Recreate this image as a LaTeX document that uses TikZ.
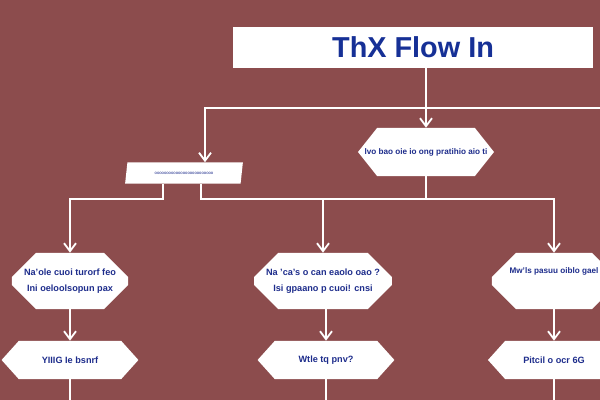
\documentclass[tikz,border=0pt]{standalone}
\usepackage{fontspec}
\setmainfont{Liberation Sans}
\usepackage{tikz}
\usetikzlibrary{shapes.geometric, shapes.misc, shapes.symbols, arrows.meta, positioning, calc}
\definecolor{flowbg}{RGB}{140,76,77}
\definecolor{flowblue}{RGB}{30,45,140}
\definecolor{flowtitle}{RGB}{22,48,150}

\begin{document}
\begin{tikzpicture}[
    x=0.025cm, y=-0.025cm,
    >={Straight Barb[length=2mm,width=3mm]},
    titlebox/.style={rectangle, fill=white, minimum width=8.98cm, minimum height=1.03cm, inner sep=0pt, text=flowtitle, font=\fontsize{20.5}{22}\selectfont\bfseries},
    hexbox/.style={signal, signal to=west and east, signal pointer angle=96, fill=white, inner sep=0pt, minimum width=3.42cm, minimum height=0.95cm, text=flowblue, font=\fontsize{6.5}{8}\selectfont\bfseries},
    octbox/.style={chamfered rectangle, chamfered rectangle xsep=0.3cm, chamfered rectangle ysep=0.3cm, fill=white, inner sep=0pt, minimum width=2.9cm, minimum height=1.4cm, align=center, text=flowblue, font=\fontsize{6.5}{11}\selectfont\bfseries},
    slantbox/.style={trapezium, trapezium left angle=63, trapezium right angle=117, shape border rotate=180, trapezium stretches=true, fill=white, inner sep=0pt, minimum width=2.95cm, minimum height=0.525cm, text=flowblue},
    link/.style={draw=white, line width=1.3pt},
    flowarrow/.style={link, ->}
]

\clip (0,0) rectangle (600,400);
\fill[flowbg] (0,0) rectangle (600,400);

% Boxes
\node[titlebox] (title) at (413,47.5) {ThX Flow In};
\node[hexbox, signal pointer angle=103, inner xsep=-0.35cm, minimum width=3.4cm, minimum height=1.2cm, font=\fontsize{5.8}{7}\selectfont\bfseries] (check) at (426,152) {lvo bao oie io ong pratihio aio ti};
\node[slantbox] (split) at (184,173) {\fontsize{3}{3}\selectfont ooooooooooooooooooooooooo};

\node[octbox] (boxL) at (70,281) {Na'ole cuoi turorf feo\\Ini oeloolsopun pax};
\node[octbox, minimum width=2.95cm] (boxM) at (323,281) {Na 'ca's o can eaolo oao ?\\Isi gpaano p cuoi! cnsi};
\node[octbox, minimum width=3.1cm, font=\fontsize{5.8}{11}\selectfont\bfseries] (boxR) at (554,281) {Mw'ls pasuu oiblo gael\\ \strut};

\node[hexbox] (hexL) at (70,360) {YIIIG Ie bsnrf};
\node[hexbox] (hexM) at (326,360) {Wtle tq pnv?};
\node[hexbox, minimum width=3.3cm] (hexR) at (554,360) {Pitcil o ocr 6G};

% Top connectors
\coordinate (topbus) at (600,108);
\draw[flowarrow] (title.south -| check.north) -- (check.north);
\draw[flowarrow] (topbus) -| ([xshift=0.525cm]split.north);

% Middle bus
\coordinate (bus) at (0,199);
\draw[link] (check.south) -- (check.south |- bus);
\draw[flowarrow] ([xshift=-0.525cm]split.south) |- (boxL.north |- bus) -- (boxL.north);
\draw[flowarrow] ([xshift=0.425cm]split.south) |- (boxR.north |- bus) -- (boxR.north);
\draw[flowarrow] (boxM.north |- bus) -- (boxM.north);

% Lower connectors
\draw[flowarrow] (boxL.south) -- (hexL.north -| boxL.south);
\draw[flowarrow] (boxM.south -| hexM.north) -- (hexM.north);
\draw[flowarrow] (boxR.south) -- (hexR.north);
\draw[link] (hexL.south) -- ++(0,30);
\draw[link] (hexM.south) -- ++(0,30);
\draw[link] (hexR.south) -- ++(0,30);

\end{tikzpicture}
\end{document}
